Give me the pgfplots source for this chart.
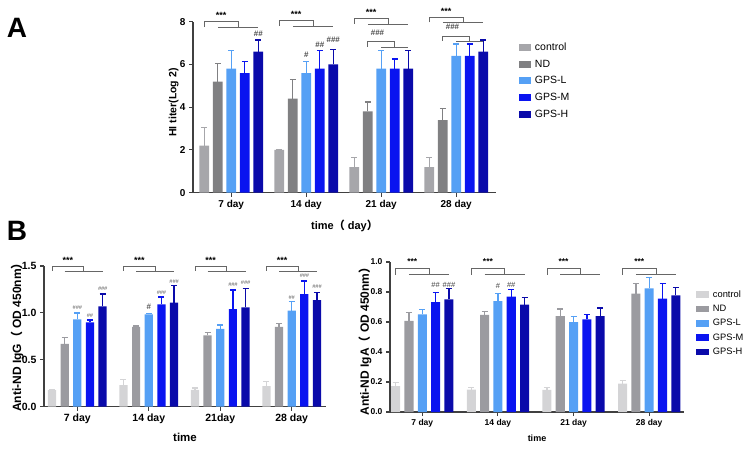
\documentclass[border=0pt]{standalone}
\usepackage{pgfplots}
\pgfplotsset{compat=1.18}
\usepackage{pgfplotstable}
\usepackage{fontspec}
\setmainfont{Liberation Sans}
\newfontfamily\cjk{Noto Sans CJK SC}
\definecolor{ctrlA}{RGB}{166,166,170}
\definecolor{ndA}{RGB}{128,128,130}
\definecolor{ctrlB}{RGB}{212,212,214}
\definecolor{ndB}{RGB}{155,155,160}
\definecolor{gl}{RGB}{85,160,245}
\definecolor{gm}{RGB}{10,20,240}
\definecolor{gh}{RGB}{10,10,170}
\newcommand{\fs}[1]{\fontsize{#1}{#1}\selectfont}

% HI titer (value, + error)
\pgfplotstableread{
x c ce n ne l le m me h he
0 2.2 0.85 5.2 0.85 5.8 0.85 5.6 0.55 6.6 0.55
1 2.0 0.0 4.4 0.9 5.6 0.55 5.8 0.85 6.0 0.7
2 1.2 0.45 3.8 0.45 5.8 0.85 5.8 0.45 5.8 0.85
3 1.2 0.45 3.4 0.55 6.4 0.55 6.4 0.55 6.6 0.55
}\dataA
% IgG
\pgfplotstableread{
x c ce n ne l le m me h he
0 0.177 0.01 0.67 0.07 0.93 0.07 0.90 0.025 1.07 0.13
1 0.23 0.06 0.85 0.01 0.985 0.01 1.09 0.08 1.11 0.18
2 0.18 0.02 0.76 0.03 0.83 0.04 1.04 0.205 1.06 0.2
3 0.22 0.05 0.85 0.04 1.025 0.095 1.2 0.14 1.135 0.085
}\dataB
% IgA
\pgfplotstableread{
x c ce n ne l le m me h he
0 0.173 0.025 0.607 0.057 0.651 0.033 0.733 0.063 0.751 0.071
1 0.149 0.013 0.647 0.022 0.74 0.049 0.769 0.047 0.716 0.048
2 0.147 0.015 0.64 0.047 0.6 0.036 0.618 0.033 0.64 0.053
3 0.189 0.022 0.789 0.069 0.824 0.074 0.756 0.102 0.778 0.053
}\dataC

\pgfplotsset{
  panel/.style={scale only axis, axis lines=left,
    axis line style={-, line width=1.1pt, black!75},
    tick style={line width=1.1pt, black!75}, tick align=outside,
    major tick length=4pt, enlargelimits=false, clip=false,
    /pgf/number format/assume math mode=true, xtick={0,1,2,3},
    legend cell align=left},
  ser/.style={ybar, bar shift=0pt, fill=#1, draw=none, error bars/y dir=plus, error bars/y explicit,
    error bars/error bar style={line width=1.3pt, draw=#1},
    error bars/error mark options={rotate=90, line width=1.3pt, mark size=3pt, draw=#1}},
}
\tikzset{brk/.style={draw=black!60, line width=0.6pt}}
% #1 centre, #2 step, #3 top y, #4 leg y, #5 label y, #6 font
\newcommand{\sig}[6]{%
  \draw[brk] (axis cs:#1-2*#2,#4) |- (axis cs:#1+0.5*#2,#3) -- (axis cs:#1+0.5*#2,#4);
  \draw[brk] (axis cs:#1-#2,#4) -- (axis cs:#1+2*#2,#4);
  \node[font=#6] at (axis cs:#1-0.75*#2,#5) {***};}
\newcommand{\hsig}[5]{%
  \draw[brk] (axis cs:#1-#2,#4) |- (axis cs:#1+#2,#3) -- (axis cs:#1+#2,#4);
  \draw[brk] (axis cs:#1,#4) -- (axis cs:#1+2*#2,#4);
  \node[font=\fs{8}\bfseries, text=black!70] at (axis cs:#1-0.05,#5) {\#\#\#};}

\begin{document}
\begin{tikzpicture}[x=1pt,y=1pt]
\useasboundingbox (0,0) rectangle (750,-449);
\node[font=\fs{28}\bfseries] at (17,-28) {A};
\node[font=\fs{28}\bfseries] at (17,-231) {B};

%%%%% Panel A
\begin{axis}[panel, at={(193pt,-192.7pt)}, anchor=south west,
  width=303pt, height=171pt,
  xmin=-0.51, xmax=3.53, ymin=0, ymax=8, ytick={0,2,4,6,8},
  xticklabels={7 day,14 day,21 day,28 day},
  ticklabel style={font=\fs{10}\bfseries},
  ylabel={HI titer(Log 2)},
  ylabel style={at={(axis description cs:-0.064,0.527)}, anchor=center, font=\fs{10.5}\bfseries},
  xlabel={time{\cjk （} day{\cjk ）}},
  xlabel style={at={(axis description cs:0.5,-0.195)}, anchor=center, font=\fs{11}\bfseries},
  legend style={at={(axis description cs:1.075,0.885)}, anchor=north west, draw=none, fill=none,
    inner sep=0pt, row sep=4.7pt, column sep=3pt, font=\fs{10.5},
    nodes={text height=8pt, text depth=2pt, inner sep=1pt}},
  legend image code/.code={\fill[#1] (0pt,-3.5pt) rectangle (12pt,3.5pt);},
]
\addplot[ser=ctrlA, bar width=0.133] table[x expr=\thisrow{x}-0.36,y=c,y error=ce]{\dataA};
\addplot[ser=ndA, bar width=0.133] table[x expr=\thisrow{x}-0.18,y=n,y error=ne]{\dataA};
\addplot[ser=gl, bar width=0.133] table[x=x,y=l,y error=le]{\dataA};
\addplot[ser=gm, bar width=0.133] table[x expr=\thisrow{x}+0.18,y=m,y error=me]{\dataA};
\addplot[ser=gh, bar width=0.133] table[x expr=\thisrow{x}+0.36,y=h,y error=he]{\dataA};
\legend{control,ND,GPS-L,GPS-M,GPS-H}
\sig{0}{0.18}{8.0}{7.75}{8.3}{\fs{9}\bfseries}
\sig{1}{0.18}{8.05}{7.8}{8.35}{\fs{9}\bfseries}
\sig{2}{0.18}{8.15}{7.9}{8.45}{\fs{9}\bfseries}
\sig{3}{0.18}{8.2}{7.97}{8.5}{\fs{9}\bfseries}
\hsig{2}{0.18}{7.08}{6.82}{7.5}
\hsig{3}{0.18}{7.33}{7.1}{7.75}
\node[font=\fs{8}\bfseries, text=black!70] at (axis cs:0.36,7.45) {\#\#};
\node[font=\fs{8}\bfseries, text=black!70] at (axis cs:1.0,6.43) {\#};
\node[font=\fs{8}\bfseries, text=black!70] at (axis cs:1.18,6.9) {\#\#};
\node[font=\fs{8}\bfseries, text=black!70] at (axis cs:1.36,7.17) {\#\#\#};
\end{axis}

%%%%% Panel B left (IgG)
\begin{axis}[panel, at={(44pt,-406.7pt)}, anchor=south west,
  width=282pt, height=140.7pt,
  xmin=-0.466, xmax=3.48, ymin=0, ymax=1.5, ytick={0,0.5,1,1.5},
  yticklabel style={/pgf/number format/.cd, fixed, fixed zerofill, precision=1},
  xticklabels={7 day,14 day,21day,28 day},
  ticklabel style={font=\fs{10.5}\bfseries},
  ylabel={Anti-ND IgG{\cjk （} OD 450nm{\cjk ）}},
  ylabel style={at={(axis description cs:-0.095,0.513)}, anchor=center, font=\fs{12}\bfseries},
  xlabel={time},
  xlabel style={at={(axis description cs:0.5,-0.217)}, anchor=center, font=\fs{11.5}\bfseries},
]
\addplot[ser=ctrlB, bar width=0.115] table[x expr=\thisrow{x}-0.354,y=c,y error=ce]{\dataB};
\addplot[ser=ndB, bar width=0.115] table[x expr=\thisrow{x}-0.177,y=n,y error=ne]{\dataB};
\addplot[ser=gl, bar width=0.115] table[x=x,y=l,y error=le]{\dataB};
\addplot[ser=gm, bar width=0.115] table[x expr=\thisrow{x}+0.177,y=m,y error=me]{\dataB};
\addplot[ser=gh, bar width=0.115] table[x expr=\thisrow{x}+0.354,y=h,y error=he]{\dataB};
\sig{0}{0.177}{1.5}{1.447}{1.56}{\fs{9}\bfseries}
\sig{1}{0.177}{1.5}{1.447}{1.56}{\fs{9}\bfseries}
\sig{2}{0.177}{1.5}{1.447}{1.56}{\fs{9}\bfseries}
\sig{3}{0.177}{1.5}{1.447}{1.56}{\fs{9}\bfseries}
\begin{scope}[every node/.style={font=\fs{5.5}\itshape, text=black!65}]
\node at (axis cs:0,1.06) {\#\#\#};
\node at (axis cs:0.177,0.97) {\#\#};
\node at (axis cs:0.354,1.26) {\#\#\#};
\node[font=\fs{8}\bfseries] at (axis cs:1,1.06) {\#};
\node at (axis cs:1.177,1.22) {\#\#\#};
\node at (axis cs:1.354,1.33) {\#\#\#};
\node at (axis cs:2.177,1.3) {\#\#\#};
\node at (axis cs:2.354,1.32) {\#\#\#};
\node at (axis cs:3,1.16) {\#\#};
\node at (axis cs:3.177,1.4) {\#\#\#};
\node at (axis cs:3.354,1.28) {\#\#\#};
\end{scope}
\end{axis}

%%%%% Panel B right (IgA)
\begin{axis}[panel, at={(390pt,-412pt)}, anchor=south west,
  width=294pt, height=150pt,
  xmin=-0.427, xmax=3.46, ymin=0, ymax=1.0, ytick={0,0.2,0.4,0.6,0.8,1.0},
  yticklabel style={/pgf/number format/.cd, fixed, fixed zerofill, precision=1},
  xticklabels={7 day,14 day,21 day,28 day},
  ticklabel style={font=\fs{8.5}\bfseries},
  ylabel={Anti-ND IgA{\cjk （} OD 450nm{\cjk ）}},
  ylabel style={at={(axis description cs:-0.085,0.49)}, anchor=center, font=\fs{12}\bfseries},
  xlabel={time},
  xlabel style={at={(axis description cs:0.5,-0.175)}, anchor=center, font=\fs{9}\bfseries},
  legend style={at={(axis description cs:1.04,0.82)}, anchor=north west, draw=none, fill=none,
    inner sep=0pt, row sep=3.3pt, column sep=3pt, font=\fs{9.3},
    nodes={text height=7pt, text depth=2pt, inner sep=1pt}},
  legend image code/.code={\fill[#1] (0pt,-3.3pt) rectangle (13pt,3.3pt);},
]
\addplot[ser=ctrlB, bar width=0.12] table[x expr=\thisrow{x}-0.352,y=c,y error=ce]{\dataC};
\addplot[ser=ndB, bar width=0.12] table[x expr=\thisrow{x}-0.176,y=n,y error=ne]{\dataC};
\addplot[ser=gl, bar width=0.12] table[x=x,y=l,y error=le]{\dataC};
\addplot[ser=gm, bar width=0.12] table[x expr=\thisrow{x}+0.176,y=m,y error=me]{\dataC};
\addplot[ser=gh, bar width=0.12] table[x expr=\thisrow{x}+0.352,y=h,y error=he]{\dataC};
\legend{control,ND,GPS-L,GPS-M,GPS-H}
\sig{0}{0.176}{0.958}{0.915}{1.0}{\fs{8.5}\bfseries}
\sig{1}{0.176}{0.958}{0.915}{1.0}{\fs{8.5}\bfseries}
\sig{2}{0.176}{0.958}{0.915}{1.0}{\fs{8.5}\bfseries}
\sig{3}{0.176}{0.958}{0.915}{1.0}{\fs{8.5}\bfseries}
\begin{scope}[every node/.style={font=\fs{7.5}, text=black!75}]
\node at (axis cs:0.176,0.847) {\#\#};
\node at (axis cs:0.352,0.85) {\#\#\#};
\node at (axis cs:1,0.84) {\#};
\node at (axis cs:1.176,0.85) {\#\#};
\end{scope}
\end{axis}
\end{tikzpicture}
\end{document}
